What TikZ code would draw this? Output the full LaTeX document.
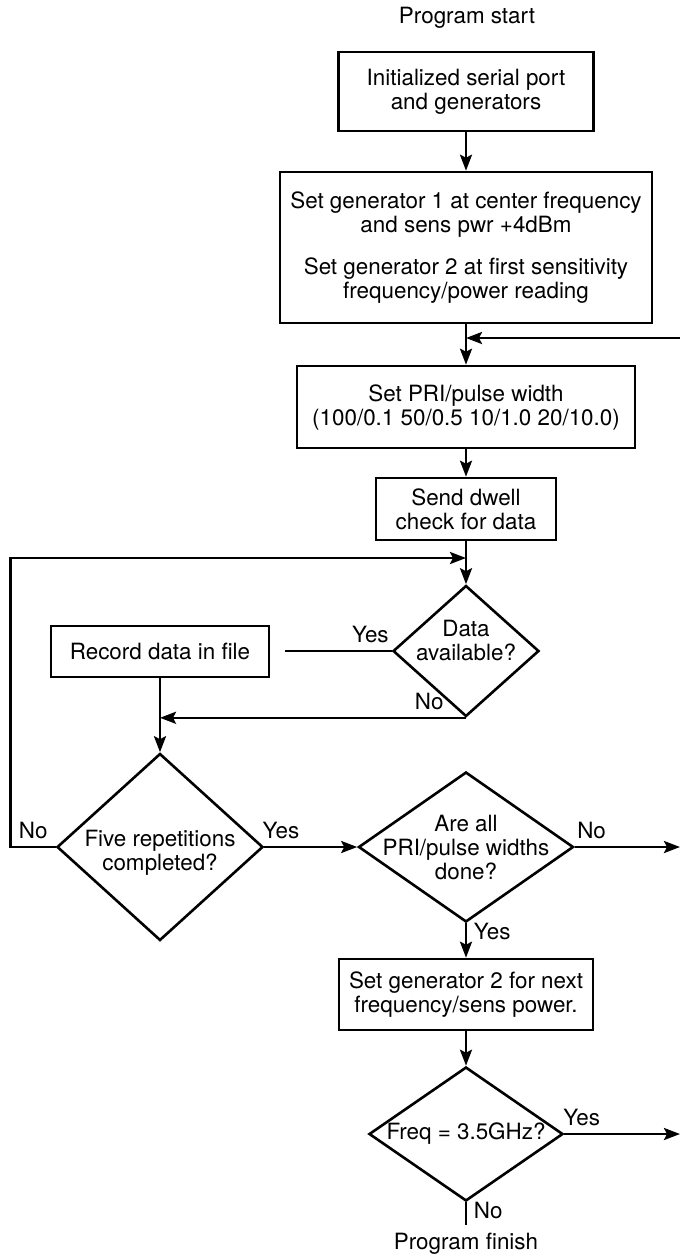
\documentclass[tikz,border=0pt]{standalone}
\usepackage{fontspec}
\setmainfont{TeX Gyre Heros}
\usetikzlibrary{positioning,arrows.meta,shapes.geometric}

\begin{document}
\begin{tikzpicture}[
    x=0.5pt, y=-0.5pt, line width=1.3pt,
    every node/.style={font=\fontsize{11.2}{12}\selectfont},
    box/.style={draw, align=center, inner sep=0pt},
    decision/.style={draw, diamond, inner sep=0pt},
    flow/.style={-{Stealth[length=8pt, width=6pt, inset=1.5pt]}}
  ]
  \useasboundingbox (0,0) rectangle (680,1255);
  \node (start) at (467,18) {Program start};
  \node[box, minimum width=127.5pt, minimum height=39.5pt] (init) at (466,91.5) {Initialized serial port\\and generators};
  \node[box, minimum width=186pt, minimum height=75.5pt] (setgen) at (466,247.5) {Set generator 1 at center frequency\\and sens pwr +4dBm\\[9pt]Set generator 2 at first sensitivity\\frequency/power reading};
  \node[box, minimum width=169pt, minimum height=41pt] (pri) at (466,407) {Set PRI/pulse width\\(100/0.1 50/0.5 10/1.0 20/10.0)};
  \node[box, minimum width=90pt, minimum height=31pt] (dwell) at (466,509) {Send dwell\\check for data};
  \coordinate (loopin) at (466,558);
  \node[decision, minimum width=73pt, minimum height=65.5pt] (avail) at (466,651) {};
  \node[align=center, yshift=5.5pt] (availtext) at (avail) {Data\\available?};
  \node[box, minimum width=109pt, minimum height=25.5pt] (record) at (160,651.5) {Record data in file};
  \coordinate (yesend) at (285,651);
  \node[decision, minimum width=103pt, minimum height=93.5pt] (five) at (160,847) {};
  \node[align=center, yshift=-3pt] (fivetext) at (five) {Five repetitions\\completed?};
  \node[decision, minimum width=107.5pt, minimum height=75pt] (alldone) at (466,847) {};
  \node[align=center] (alldonetext) at (alldone) {Are all\\PRI/pulse widths\\done?};
  \node[box, minimum width=127pt, minimum height=35.5pt] (next) at (466,994.5) {Set generator 2 for next\\frequency/sens power.};
  \node[decision, minimum width=97pt, minimum height=67pt] (freq) at (466,1134) {};
  \node (freqtext) at (freq) {Freq = 3.5GHz?};
  \node (finish) at (466,1244) {Program finish};
  \coordinate (retin) at (680,338);
  \coordinate (noend) at (680,847);
  \coordinate (yesright) at (680,1134);

  \draw[flow] (init) -- (setgen);
  \draw[flow] (setgen) -- (pri);
  \draw[flow] (retin) -- (retin -| setgen.south);
  \draw[flow] (pri) -- (dwell);
  \draw[flow] (dwell) -- (avail);
  \draw (avail.west) -- node[above, pos=0.2] {Yes} (yesend);
  \draw[flow] (avail.south) -- node[above, pos=0.12] {No} (avail.south -| record.south);
  \draw[flow] (record) -- (five);
  \draw[flow] (five.west) -- node[above] {No} ++(-45,0) |- (loopin);
  \draw[flow] (five.east) -- node[above, pos=0.18] {Yes} (alldone.west);
  \draw[flow] (alldone.east) -- node[above, pos=0.16] {No} (noend);
  \draw[flow] (alldone) -- node[right, pos=0.25] {Yes} (next);
  \draw[flow] (next) -- (freq);
  \draw[flow] (freq.east) -- node[above, pos=0.15] {Yes} (yesright);
  \draw (freq.south) -- node[right, pos=0.35] {No} (finish.north);
\end{tikzpicture}
\end{document}
